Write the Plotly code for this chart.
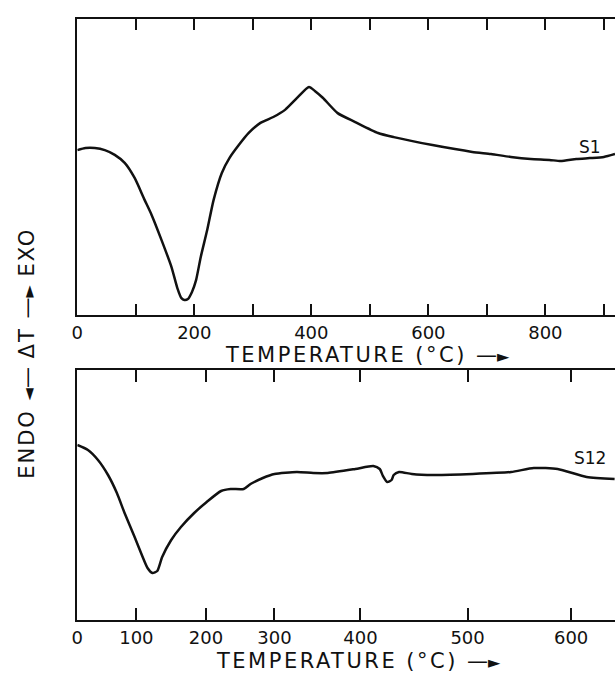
import numpy as np
import plotly.graph_objects as go

# ---- data (DTA curves) ----
S1_TEMP = [0, 14, 30, 47, 64, 81, 98, 115, 127, 144, 161, 171, 178, 183, 189, 196, 203, 211, 222, 233,
           247, 260, 276, 293, 313, 335, 355, 377, 396, 406, 420, 445, 475, 514, 541, 607, 675, 707, 741, 775,
           807, 826, 853, 876, 900, 919]
S1_DT = [55.7, 56.4, 56.4, 55.7, 54.1, 51.4, 46.3, 38.9, 33.8, 25.3, 16.2, 9.1, 5.7, 5.1, 5.4, 7.8, 11.8, 19.6, 28.7, 38.9,
         48.0, 53.0, 57.4, 61.5, 64.9, 66.9, 69.3, 73.6, 77.0, 75.7, 73.3, 68.2, 65.2, 61.5, 60.1, 57.4, 55.1, 54.4, 53.4, 52.7,
         52.4, 52.0, 52.7, 53.0, 53.4, 54.4]

S12_TEMP = [0, 18, 35, 52, 67, 80, 97, 109, 116, 123, 130, 137, 150, 164, 183, 201, 222, 236, 255, 265,
            283, 300, 326, 345, 362, 394, 412, 418, 421, 425, 429, 431, 436, 448, 468, 505, 542, 564, 587, 615,
            642]
S12_DT = [70, 68, 64, 58, 50.8, 42.8, 33.2, 25.2, 20.8, 18.8, 19.6, 25.2, 32, 37.2, 42.8, 47.2, 51.6, 52.4, 52.4, 54.4,
          56.8, 58.4, 59.2, 58.8, 58.8, 60.4, 61.6, 60.4, 57.6, 55.2, 56, 58, 59.2, 58.4, 58, 58.4, 59.2, 60.8, 60.4, 57.2,
          56.4]

TOP_TICKS = [0, 100, 200, 300, 400, 500, 600, 700, 800, 900]
TOP_TICK_LABELS = ["0", "", "200", "", "400", "", "600", "", "800", ""]

# lower chart has a non-linear temperature scale: tick temperatures and their chart positions
S12_TICKS = [0, 100, 200, 300, 400, 500, 600]
S12_TICK_LABELS = ["0", "100", "200", "300", "400", "500", "600"]
S12_TICK_POS = [0, 101, 220, 337, 484, 667, 844]

X_RANGE = [0, 919]
Y_RANGE = [0, 100]


def s12_scale(t):
    t = np.asarray(t, float)
    pos = np.interp(t, S12_TICKS, S12_TICK_POS)
    hi = t > S12_TICKS[-1]
    slope = (S12_TICK_POS[-1] - S12_TICK_POS[-2]) / (S12_TICKS[-1] - S12_TICKS[-2])
    pos[hi] = S12_TICK_POS[-1] + (t[hi] - S12_TICKS[-1]) * slope
    return pos


W, H = 615, 674
FONT = "DejaVu Sans"
INK = "#111111"

fig = go.Figure()
fig.add_trace(go.Scatter(x=S1_TEMP, y=S1_DT, mode="lines", xaxis="x", yaxis="y",
                         line=dict(color=INK, width=2.5, shape="spline", smoothing=0.6),
                         showlegend=False, hoverinfo="skip"))
fig.add_trace(go.Scatter(x=s12_scale(S12_TEMP), y=S12_DT, mode="lines", xaxis="x2", yaxis="y2",
                         line=dict(color=INK, width=2.5, shape="spline", smoothing=0.6),
                         showlegend=False, hoverinfo="skip"))

xdom = [72 / W, 1.0]
top_dom = [1 - 315 / H, 1 - 19 / H]
bot_dom = [1 - 620 / H, 1 - 370 / H]

common_x = dict(range=X_RANGE, showline=True, linewidth=2, linecolor=INK, mirror="ticks",
                ticks="inside", tickwidth=2, tickcolor=INK, showgrid=False, zeroline=False,
                tickfont=dict(family=FONT, size=18, color=INK), fixedrange=True, tickangle=0)
common_y = dict(range=Y_RANGE, showline=True, linewidth=2, linecolor=INK, mirror=False,
                ticks="", showticklabels=False, showgrid=False, zeroline=False, fixedrange=True)

fig.update_layout(
    width=W, height=H, margin=dict(l=0, r=0, t=0, b=0),
    paper_bgcolor="white", plot_bgcolor="white",
    xaxis=dict(domain=xdom, anchor="y", tickmode="array", tickvals=TOP_TICKS, ticktext=TOP_TICK_LABELS,
               ticklen=11, **common_x),
    yaxis=dict(domain=top_dom, anchor="x", **common_y),
    xaxis2=dict(domain=xdom, anchor="y2", tickmode="array", tickvals=S12_TICK_POS, ticktext=S12_TICK_LABELS,
                ticklen=12, **common_x),
    yaxis2=dict(domain=bot_dom, anchor="x2", **common_y),
)

SP = '<span style="letter-spacing:2.5px">'
ARROW_R = '—<span style="font-size:16px">►</span>'
ARROW_L = '<span style="font-size:16px">◄</span>—'
title_txt = SP + "TEMPERATURE (°C) </span>" + ARROW_R
ann_font = dict(family=FONT, size=21, color=INK)
fig.add_annotation(text=title_txt, x=365 / W, y=1 - 355 / H, xref="paper", yref="paper",
                   showarrow=False, font=ann_font, xanchor="center", yanchor="middle")
fig.add_annotation(text=title_txt, x=356 / W, y=1 - 661 / H, xref="paper", yref="paper",
                   showarrow=False, font=ann_font, xanchor="center", yanchor="middle")
fig.add_annotation(text='<span style="letter-spacing:2px">ENDO </span>' + ARROW_L
                   + '<span style="letter-spacing:2px"> ΔT </span>' + ARROW_R
                   + '<span style="letter-spacing:2px"> EXO</span>',
                   x=21 / W, y=1 - 353 / H, xref="paper", yref="paper",
                   showarrow=False, textangle=-90, font=dict(family=FONT, size=21, color=INK),
                   xanchor="center", yanchor="middle")
fig.add_annotation(text="S1", x=590 / W, y=1 - 147 / H, xref="paper", yref="paper",
                   showarrow=False, font=dict(family=FONT, size=17, color=INK),
                   xanchor="center", yanchor="middle")
fig.add_annotation(text="S12", x=590 / W, y=1 - 458 / H, xref="paper", yref="paper",
                   showarrow=False, font=dict(family=FONT, size=17, color=INK),
                   xanchor="center", yanchor="middle")

fig.write_html("out.html")
